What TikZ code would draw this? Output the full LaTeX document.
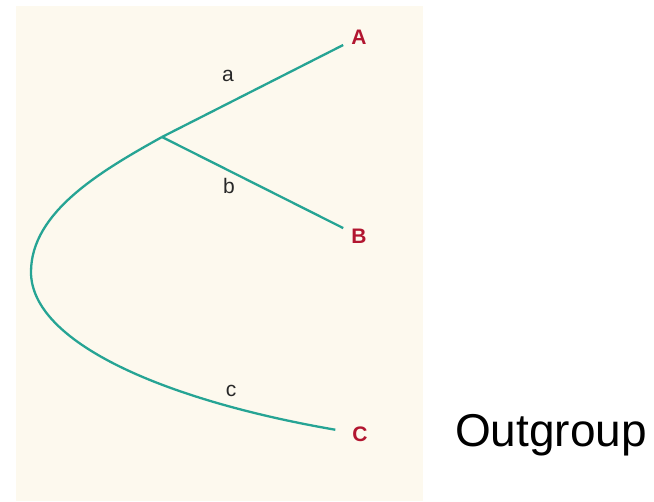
\documentclass[tikz,border=0pt]{standalone}
\usepackage{fontspec}
\setmainfont{Liberation Sans}
\usepackage{xcolor}
\usetikzlibrary{positioning}
\definecolor{cream}{RGB}{253,249,238}
\definecolor{teal}{RGB}{38,164,148}
\definecolor{darkred}{RGB}{178,22,48}
\definecolor{labelgray}{RGB}{40,40,40}

\begin{document}
\begin{tikzpicture}[
  x=1pt, y=-1pt,
  taxon/.style={text=darkred, font=\fontsize{21}{21}\selectfont\bfseries, inner sep=8pt},
  branchlabel/.style={text=labelgray, font=\fontsize{21}{21}\selectfont, inner sep=0pt},
  branch/.style={draw=teal, line width=2.3pt}
]
  \useasboundingbox (0,0) rectangle (654,502);
  \fill[cream] (16,6) rectangle (423,501);

  % tips and the root of the ingroup
  \coordinate (j) at (162,137);
  \node[taxon] (A) at (359,37)  {A};
  \node[taxon] (B) at (359,236) {B};
  \node[taxon] (C) at (360,434) {C};

  \draw[branch] (j) -- (A);
  \draw[branch] (j) -- (B);
  \draw[branch, shorten >=9pt] (j) .. controls (101,171) and (31,212) .. (31,272)
                    .. controls (31,342) and (163,400) .. (C);

  \node[branchlabel] (la) at (228,76)  {a};
  \node[branchlabel] (lb) at (229,186) {b};
  \node[branchlabel] (lc) at (231,391) {c};

  \node[font=\fontsize{46}{46}\selectfont] (out) at (551,435) {Outgroup};
\end{tikzpicture}
\end{document}
